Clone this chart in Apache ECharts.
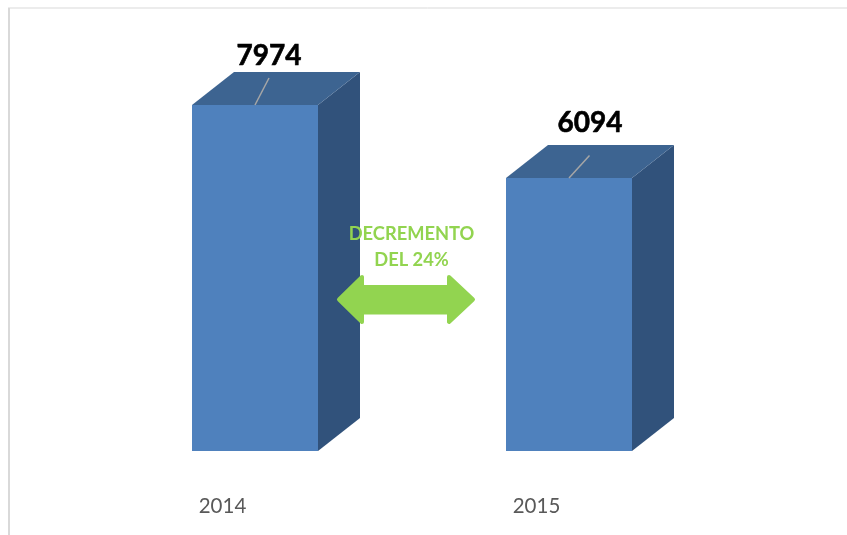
<!DOCTYPE html>
<html>
<head>
<meta charset="utf-8">
<style>html,body{margin:0;padding:0;background:#fff}#c{width:847px;height:535px}</style>
<script src="https://cdn.jsdelivr.net/npm/echarts@6/dist/echarts.min.js"></script>
</head>
<body>
<div id="c"></div>
<script>
const categories = ['2014', '2015'];
const values = [7974, 6094];
const annotationLines = ['DECREMENTO', 'DEL 24%'];

const FRONT = '#4f81bd', TOP = '#3d6491', SIDE = '#31527b', GREEN = '#92d450';
const DX = 42, DY = -33, BAR_W = 126;
const LEADERS = [[14, -27], [20.5, -22.5]];
const LABEL_OFFSETS = [[14, -49], [21, -55]];

const chart = echarts.init(document.getElementById('c'), null, {renderer: 'canvas'});

function renderBar(params, api) {
  const i = api.value(0);
  const top = api.coord([i, api.value(1)]);
  const base = params.coordSys.y + params.coordSys.height;
  const l = top[0] - BAR_W / 2, r = top[0] + BAR_W / 2, t = top[1];
  const poly = (points, fill) => ({type: 'polygon', shape: {points}, style: {fill}, silent: true});
  const lead = LEADERS[i], off = LABEL_OFFSETS[i];
  return {
    type: 'group',
    children: [
      poly([[r, t], [r + DX, t + DY], [r + DX, base + DY], [r, base]], SIDE),
      poly([[l, t], [l + DX, t + DY], [r + DX, t + DY], [r, t]], TOP),
      {type: 'rect', shape: {x: l, y: t, width: BAR_W, height: base - t}, style: {fill: FRONT}},
      {type: 'line', shape: {x1: top[0], y1: t, x2: top[0] + lead[0], y2: t + lead[1]},
        style: {stroke: '#a6a6a6', lineWidth: 1.5}},
      {type: 'text', x: top[0] + off[0], y: t + off[1], style: {
        text: String(api.value(1)), fill: '#000', font: 'bold 28px Lato',
        stroke: '#000', lineWidth: 0.6,
        textAlign: 'center', textVerticalAlign: 'middle'}}
    ]
  };
}

chart.setOption({
  animation: false,
  backgroundColor: '#fff',
  grid: {left: 98, right: 121, top: 104, bottom: 84},
  xAxis: {
    type: 'category', data: categories,
    axisLine: {show: false}, axisTick: {show: false}, splitLine: {show: false},
    axisLabel: {color: '#595959', fontFamily: 'Lato', fontSize: 20.5, margin: 45, padding: [0, 65, 0, 0]}
  },
  yAxis: {type: 'value', min: -937, max: 8000, show: false, splitLine: {show: false}},
  series: [{
    type: 'custom',
    renderItem: renderBar,
    encode: {x: 0, y: 1},
    data: values.map((v, i) => [i, v]),
    clip: false
  }],
  graphic: [
    {type: 'line', shape: {x1: 9, y1: 8, x2: 9, y2: 535}, style: {stroke: '#d9d9d9', lineWidth: 2}, z: 1},
    {type: 'line', shape: {x1: 8, y1: 8, x2: 847, y2: 8}, style: {stroke: '#d9d9d9', lineWidth: 1}, z: 1},
    {type: 'polygon', z: 10, shape: {points: [
        [339, 299.5], [362, 277], [362, 287], [449, 287], [449, 277], [473, 299.5],
        [449, 322], [449, 312.5], [362, 312.5], [362, 322]]},
      style: {fill: GREEN, stroke: GREEN, lineWidth: 4, lineJoin: 'round'}},
    {type: 'text', z: 10, x: 411.5, y: 234, style: {text: annotationLines[0], fill: GREEN,
      font: 'bold 18.3px Lato', textAlign: 'center', textVerticalAlign: 'middle'}},
    {type: 'text', z: 10, x: 411.5, y: 260, style: {text: annotationLines[1], fill: GREEN,
      font: 'bold 18.3px Lato', textAlign: 'center', textVerticalAlign: 'middle'}}
  ]
});
</script>
</body>
</html>
